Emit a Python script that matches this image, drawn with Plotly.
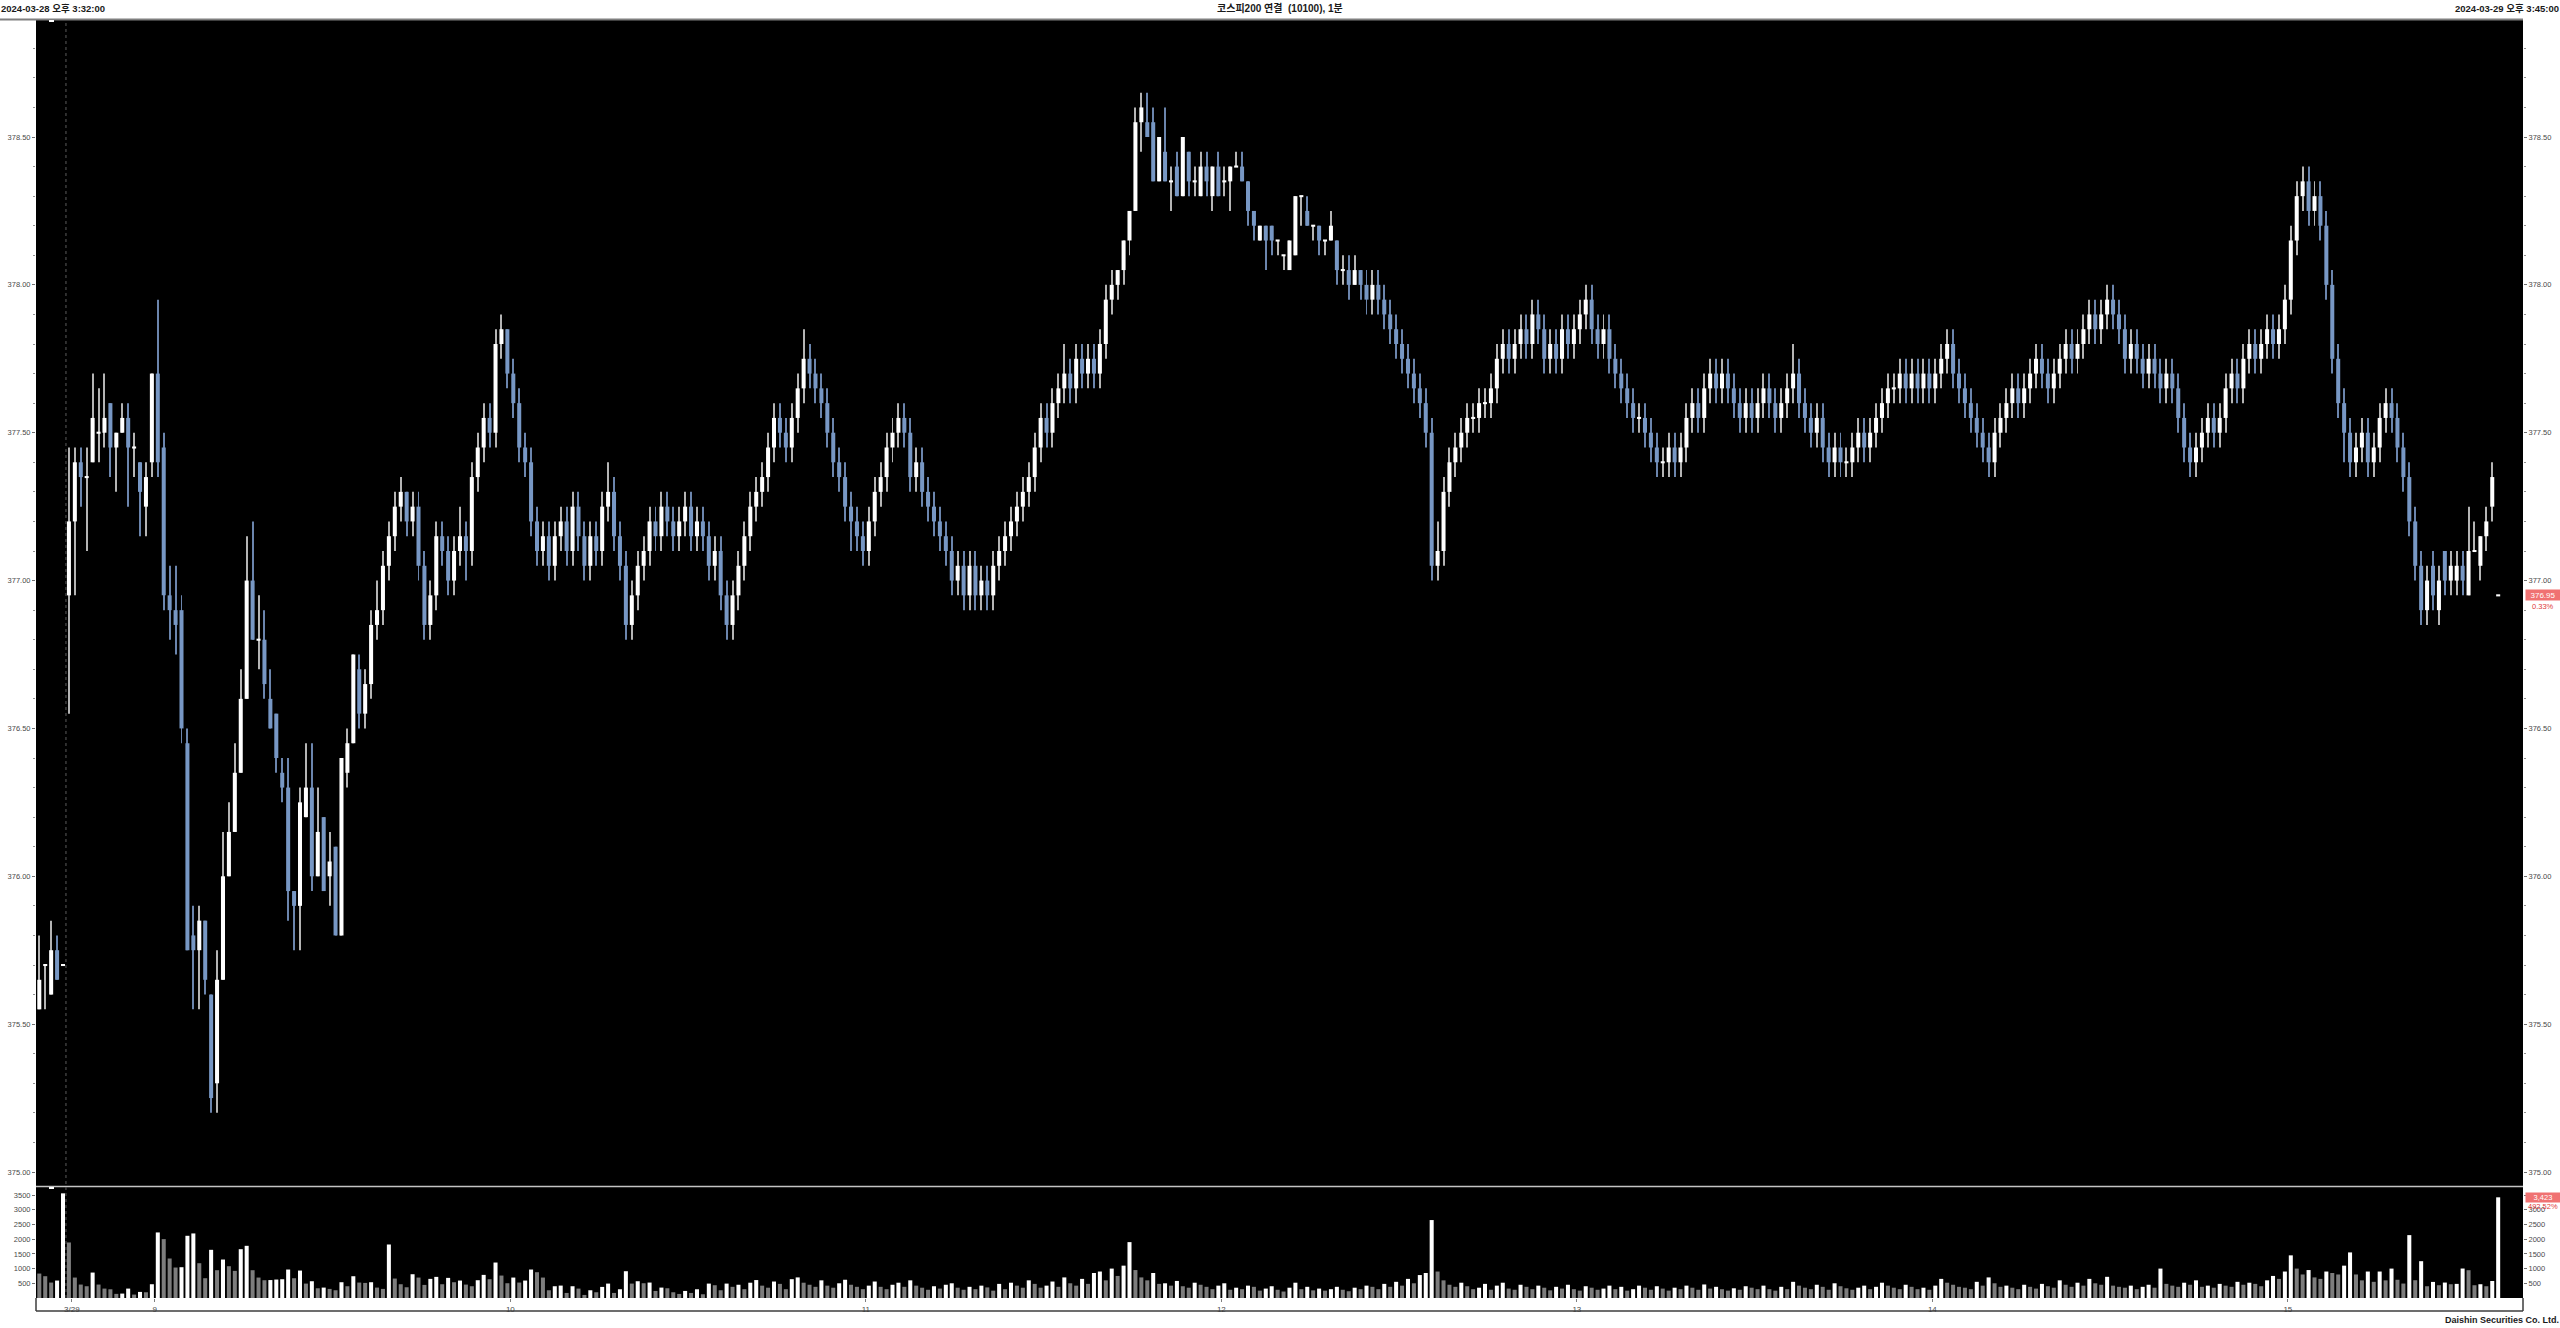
import plotly.graph_objects as go

# ---------------- data (1-minute candles, KOSPI200 futures) ----------------
open_ = [375.55, 375.70, 375.60, 375.75, 375.70,
         376.95, 377.20, 377.40, 377.35, 377.40, 377.50, 377.50, 377.60, 377.45, 377.50,
         377.55, 377.45, 377.40, 377.25, 377.40, 377.70, 377.45, 376.95, 376.90, 376.90,
         376.45, 375.80, 375.75, 375.85, 375.60, 375.30, 375.65, 376.00, 376.15, 376.35,
         376.60, 377.00, 376.80, 376.80, 376.60, 376.55, 376.35, 376.30, 375.95, 375.90,
         376.20, 376.30, 376.00, 376.20, 376.00, 376.10, 375.80, 376.35, 376.45,
         376.70, 376.55, 376.65, 376.85, 376.90, 377.05, 377.15, 377.25, 377.30, 377.20,
         377.25, 377.05, 376.85, 376.95, 377.15, 377.10, 377.00, 377.10, 377.15, 377.10,
         377.35, 377.45, 377.55, 377.50, 377.80, 377.85, 377.70, 377.60, 377.45, 377.40,
         377.20, 377.10, 377.15, 377.05, 377.15, 377.20, 377.10, 377.25, 377.15, 377.05,
         377.15, 377.10, 377.25, 377.30, 377.15, 377.05, 376.85, 376.95, 377.05, 377.10,
         377.20, 377.15, 377.25, 377.20, 377.15, 377.20, 377.25, 377.15, 377.20, 377.15,
         377.05, 377.10, 376.95, 376.85, 376.95, 377.05, 377.15, 377.25, 377.30, 377.35,
         377.45, 377.55, 377.50, 377.45, 377.55, 377.65, 377.75, 377.70, 377.65, 377.60,
         377.50, 377.40, 377.35, 377.25, 377.20, 377.15, 377.10, 377.20, 377.30, 377.35,
         377.45, 377.50, 377.55, 377.50, 377.35, 377.40, 377.30, 377.25, 377.20, 377.15,
         377.10, 377.00, 377.05, 376.95, 377.05, 376.95, 377.00, 376.95, 377.05, 377.10,
         377.15, 377.20, 377.25, 377.30, 377.35, 377.45, 377.55, 377.50, 377.60, 377.65,
         377.70, 377.65, 377.75, 377.70, 377.75, 377.70, 377.80, 377.95, 378.00, 378.05,
         378.15, 378.25, 378.55, 378.55, 378.55, 378.35, 378.45, 378.35, 378.40, 378.30,
         378.45, 378.35, 378.30, 378.40, 378.30, 378.40, 378.35, 378.35, 378.40, 378.40,
         378.35, 378.25, 378.15, 378.20, 378.20, 378.15, 378.10, 378.05, 378.10, 378.30,
         378.25, 378.20, 378.20, 378.15, 378.15, 378.15, 378.05, 378.05, 378.00, 378.05,
         378.00, 377.95, 378.00, 377.95, 377.90, 377.85, 377.80, 377.75, 377.70, 377.65,
         377.60, 377.50, 377.05, 377.10, 377.30, 377.40, 377.45, 377.50, 377.55, 377.55,
         377.60, 377.60, 377.65, 377.75, 377.80, 377.75, 377.80, 377.85, 377.80, 377.90,
         377.85, 377.75, 377.80, 377.75, 377.85, 377.80, 377.85, 377.90, 377.95, 377.85,
         377.80, 377.85, 377.75, 377.70, 377.65, 377.60, 377.55, 377.55, 377.50, 377.45,
         377.40, 377.40, 377.45, 377.40, 377.45, 377.55, 377.60, 377.55, 377.65, 377.70,
         377.65, 377.70, 377.65, 377.60, 377.55, 377.60, 377.55, 377.60, 377.65, 377.60,
         377.55, 377.60, 377.65, 377.70, 377.60, 377.55, 377.50, 377.55, 377.45, 377.40,
         377.45, 377.40, 377.40, 377.45, 377.50, 377.45, 377.50, 377.55, 377.60, 377.65,
         377.65, 377.70, 377.65, 377.70, 377.65, 377.70, 377.65, 377.70, 377.75, 377.80,
         377.70, 377.65, 377.60, 377.55, 377.50, 377.45, 377.40, 377.50, 377.55, 377.60,
         377.65, 377.60, 377.65, 377.70, 377.75, 377.70, 377.65, 377.70, 377.75, 377.80,
         377.75, 377.80, 377.85, 377.90, 377.85, 377.90, 377.95, 377.90, 377.85, 377.75,
         377.80, 377.75, 377.70, 377.75, 377.70, 377.65, 377.70, 377.65, 377.55, 377.45,
         377.40, 377.45, 377.50, 377.55, 377.50, 377.55, 377.65, 377.70, 377.65, 377.75,
         377.80, 377.75, 377.80, 377.85, 377.80, 377.85, 377.95, 378.15, 378.30, 378.35,
         378.25, 378.30, 378.20, 378.00, 377.75, 377.60, 377.50, 377.40, 377.45, 377.50,
         377.40, 377.45, 377.55, 377.60, 377.55, 377.45, 377.35, 377.20, 377.05, 376.90,
         377.05, 376.90, 377.10, 377.00, 377.00, 377.05, 376.95, 377.10, 377.05, 377.15,
         377.25, 376.95]
high_ = [375.80, 375.70, 375.85, 375.80, 375.70,
         377.45, 377.45, 377.45, 377.45, 377.70, 377.65, 377.70, 377.60, 377.50, 377.60,
         377.60, 377.50, 377.40, 377.40, 377.70, 377.95, 377.50, 377.05, 377.05, 376.95,
         376.50, 375.90, 375.90, 375.85, 375.60, 375.75, 376.15, 376.25, 376.45, 376.70,
         377.15, 377.20, 376.95, 376.90, 376.70, 376.55, 376.40, 376.40, 375.95, 376.30,
         376.45, 376.45, 376.30, 376.20, 376.15, 376.10, 376.40, 376.50, 376.75,
         376.75, 376.70, 376.90, 377.00, 377.10, 377.20, 377.30, 377.35, 377.30, 377.30,
         377.30, 377.10, 377.00, 377.20, 377.20, 377.15, 377.15, 377.25, 377.20, 377.40,
         377.50, 377.60, 377.60, 377.85, 377.90, 377.85, 377.75, 377.65, 377.50, 377.45,
         377.25, 377.20, 377.20, 377.20, 377.25, 377.25, 377.30, 377.30, 377.20, 377.20,
         377.20, 377.30, 377.40, 377.35, 377.20, 377.10, 377.00, 377.10, 377.15, 377.25,
         377.25, 377.30, 377.30, 377.25, 377.25, 377.30, 377.30, 377.25, 377.25, 377.20,
         377.15, 377.15, 377.00, 377.00, 377.10, 377.20, 377.30, 377.35, 377.40, 377.50,
         377.60, 377.60, 377.55, 377.60, 377.70, 377.85, 377.80, 377.75, 377.70, 377.65,
         377.55, 377.45, 377.40, 377.30, 377.25, 377.20, 377.25, 377.35, 377.40, 377.50,
         377.55, 377.60, 377.60, 377.55, 377.45, 377.45, 377.35, 377.30, 377.25, 377.20,
         377.15, 377.10, 377.10, 377.10, 377.10, 377.05, 377.05, 377.10, 377.15, 377.20,
         377.25, 377.30, 377.35, 377.40, 377.50, 377.60, 377.60, 377.65, 377.70, 377.80,
         377.75, 377.80, 377.80, 377.80, 377.80, 377.85, 378.00, 378.05, 378.05, 378.15,
         378.25, 378.60, 378.65, 378.65, 378.60, 378.50, 378.60, 378.40, 378.45, 378.50,
         378.45, 378.40, 378.45, 378.45, 378.40, 378.45, 378.40, 378.40, 378.45, 378.45,
         378.35, 378.25, 378.20, 378.20, 378.20, 378.15, 378.10, 378.15, 378.30, 378.30,
         378.30, 378.20, 378.20, 378.15, 378.25, 378.15, 378.10, 378.10, 378.10, 378.05,
         378.05, 378.05, 378.05, 378.00, 377.95, 377.90, 377.85, 377.80, 377.75, 377.70,
         377.65, 377.55, 377.20, 377.35, 377.45, 377.50, 377.55, 377.60, 377.60, 377.65,
         377.65, 377.70, 377.80, 377.85, 377.85, 377.85, 377.90, 377.90, 377.95, 377.95,
         377.90, 377.85, 377.85, 377.90, 377.90, 377.90, 377.95, 378.00, 378.00, 377.90,
         377.90, 377.90, 377.80, 377.75, 377.70, 377.65, 377.60, 377.60, 377.55, 377.50,
         377.45, 377.50, 377.50, 377.50, 377.60, 377.65, 377.65, 377.70, 377.75, 377.75,
         377.75, 377.75, 377.70, 377.65, 377.65, 377.65, 377.65, 377.70, 377.70, 377.65,
         377.65, 377.70, 377.80, 377.75, 377.65, 377.60, 377.60, 377.60, 377.50, 377.50,
         377.50, 377.45, 377.50, 377.55, 377.55, 377.55, 377.60, 377.65, 377.70, 377.70,
         377.75, 377.75, 377.75, 377.75, 377.75, 377.75, 377.75, 377.80, 377.85, 377.85,
         377.75, 377.70, 377.65, 377.60, 377.55, 377.50, 377.55, 377.60, 377.65, 377.70,
         377.70, 377.70, 377.75, 377.80, 377.80, 377.75, 377.75, 377.80, 377.85, 377.85,
         377.85, 377.90, 377.95, 377.95, 377.95, 378.00, 378.00, 377.95, 377.90, 377.85,
         377.85, 377.80, 377.80, 377.80, 377.75, 377.75, 377.75, 377.70, 377.60, 377.50,
         377.50, 377.55, 377.60, 377.60, 377.60, 377.70, 377.75, 377.75, 377.80, 377.85,
         377.85, 377.85, 377.90, 377.90, 377.90, 378.00, 378.20, 378.35, 378.40, 378.40,
         378.35, 378.35, 378.25, 378.05, 377.80, 377.65, 377.55, 377.50, 377.55, 377.55,
         377.50, 377.60, 377.65, 377.65, 377.60, 377.50, 377.40, 377.25, 377.10, 377.05,
         377.10, 377.05, 377.10, 377.10, 377.10, 377.10, 377.25, 377.20, 377.15, 377.25,
         377.40, 376.95]
low_ = [375.55, 375.55, 375.60, 375.65, 375.70,
        376.55, 376.95, 377.25, 377.10, 377.40, 377.40, 377.45, 377.35, 377.30, 377.50,
        377.25, 377.35, 377.15, 377.15, 377.35, 377.35, 376.90, 376.80, 376.75, 376.45,
        375.75, 375.55, 375.55, 375.60, 375.20, 375.20, 375.65, 376.00, 376.15, 376.35,
        376.60, 376.80, 376.70, 376.60, 376.50, 376.35, 376.25, 375.85, 375.75, 375.75,
        376.20, 375.95, 376.00, 375.95, 375.90, 375.80, 375.80, 376.30, 376.45,
        376.50, 376.50, 376.60, 376.80, 376.85, 377.00, 377.10, 377.20, 377.15, 377.15,
        377.00, 376.80, 376.80, 376.90, 377.05, 376.95, 376.95, 377.05, 377.00, 377.05,
        377.30, 377.40, 377.45, 377.45, 377.75, 377.65, 377.55, 377.40, 377.35, 377.15,
        377.05, 377.05, 377.00, 377.00, 377.10, 377.05, 377.05, 377.10, 377.00, 377.00,
        377.05, 377.05, 377.20, 377.10, 377.00, 376.80, 376.80, 376.90, 377.00, 377.05,
        377.10, 377.10, 377.15, 377.10, 377.10, 377.15, 377.10, 377.10, 377.10, 377.00,
        377.00, 376.90, 376.80, 376.80, 376.90, 377.00, 377.10, 377.20, 377.25, 377.30,
        377.40, 377.45, 377.40, 377.40, 377.50, 377.60, 377.65, 377.60, 377.55, 377.45,
        377.35, 377.30, 377.20, 377.10, 377.10, 377.05, 377.05, 377.15, 377.25, 377.30,
        377.40, 377.45, 377.45, 377.30, 377.30, 377.25, 377.20, 377.15, 377.10, 377.05,
        376.95, 376.95, 376.90, 376.90, 376.90, 376.90, 376.90, 376.90, 377.00, 377.05,
        377.10, 377.15, 377.20, 377.25, 377.30, 377.40, 377.45, 377.45, 377.55, 377.60,
        377.60, 377.60, 377.65, 377.65, 377.65, 377.65, 377.75, 377.90, 377.95, 378.00,
        378.10, 378.25, 378.45, 378.50, 378.35, 378.35, 378.35, 378.25, 378.30, 378.30,
        378.30, 378.30, 378.30, 378.30, 378.25, 378.30, 378.30, 378.25, 378.40, 378.35,
        378.20, 378.15, 378.15, 378.05, 378.10, 378.10, 378.05, 378.05, 378.10, 378.20,
        378.20, 378.15, 378.10, 378.10, 378.15, 378.00, 378.00, 377.95, 378.00, 377.95,
        377.90, 377.90, 377.90, 377.85, 377.80, 377.75, 377.70, 377.65, 377.60, 377.55,
        377.45, 377.00, 377.00, 377.05, 377.25, 377.35, 377.40, 377.45, 377.50, 377.50,
        377.55, 377.55, 377.60, 377.70, 377.70, 377.70, 377.75, 377.75, 377.75, 377.80,
        377.70, 377.70, 377.70, 377.70, 377.75, 377.75, 377.80, 377.85, 377.80, 377.75,
        377.75, 377.70, 377.65, 377.60, 377.55, 377.50, 377.50, 377.45, 377.40, 377.35,
        377.35, 377.35, 377.35, 377.35, 377.40, 377.50, 377.50, 377.50, 377.60, 377.60,
        377.60, 377.60, 377.55, 377.50, 377.50, 377.50, 377.50, 377.55, 377.55, 377.50,
        377.50, 377.55, 377.60, 377.55, 377.50, 377.45, 377.45, 377.40, 377.35, 377.35,
        377.35, 377.35, 377.35, 377.40, 377.40, 377.40, 377.45, 377.50, 377.55, 377.60,
        377.60, 377.60, 377.60, 377.60, 377.60, 377.60, 377.60, 377.65, 377.70, 377.65,
        377.60, 377.55, 377.50, 377.45, 377.40, 377.35, 377.35, 377.45, 377.50, 377.55,
        377.55, 377.55, 377.60, 377.65, 377.65, 377.60, 377.60, 377.65, 377.70, 377.70,
        377.70, 377.75, 377.80, 377.80, 377.80, 377.85, 377.85, 377.80, 377.70, 377.70,
        377.70, 377.65, 377.65, 377.65, 377.60, 377.60, 377.60, 377.50, 377.40, 377.35,
        377.35, 377.40, 377.45, 377.45, 377.45, 377.50, 377.60, 377.60, 377.60, 377.70,
        377.70, 377.70, 377.75, 377.75, 377.75, 377.80, 377.90, 378.10, 378.25, 378.20,
        378.20, 378.15, 377.95, 377.70, 377.55, 377.40, 377.35, 377.35, 377.40, 377.35,
        377.35, 377.40, 377.50, 377.50, 377.40, 377.30, 377.15, 377.00, 376.85, 376.85,
        376.90, 376.85, 376.95, 376.95, 376.95, 376.95, 376.95, 377.10, 377.00, 377.10,
        377.20, 376.95]
close_ = [375.65, 375.70, 375.75, 375.65, 375.70,
          377.20, 377.40, 377.35, 377.35, 377.55, 377.50, 377.55, 377.45, 377.50, 377.55,
          377.45, 377.45, 377.30, 377.35, 377.70, 377.40, 376.95, 376.90, 376.85, 376.50,
          375.75, 375.75, 375.85, 375.65, 375.25, 375.65, 376.00, 376.15, 376.35, 376.60,
          377.00, 376.80, 376.80, 376.65, 376.50, 376.40, 376.30, 375.95, 375.90, 376.25,
          376.30, 376.00, 376.15, 375.95, 376.05, 375.80, 376.40, 376.45, 376.75,
          376.55, 376.65, 376.85, 376.90, 377.05, 377.15, 377.25, 377.30, 377.20, 377.25,
          377.05, 376.85, 376.95, 377.15, 377.10, 377.00, 377.10, 377.15, 377.10, 377.35,
          377.45, 377.55, 377.50, 377.80, 377.85, 377.70, 377.60, 377.45, 377.40, 377.20,
          377.10, 377.15, 377.05, 377.15, 377.20, 377.10, 377.25, 377.15, 377.05, 377.15,
          377.10, 377.25, 377.30, 377.15, 377.05, 376.85, 376.95, 377.05, 377.10, 377.20,
          377.15, 377.25, 377.20, 377.15, 377.20, 377.25, 377.15, 377.20, 377.15, 377.05,
          377.10, 376.95, 376.85, 376.95, 377.05, 377.15, 377.25, 377.30, 377.35, 377.45,
          377.55, 377.50, 377.45, 377.55, 377.65, 377.75, 377.70, 377.65, 377.60, 377.50,
          377.40, 377.35, 377.25, 377.20, 377.15, 377.10, 377.20, 377.30, 377.35, 377.45,
          377.50, 377.55, 377.50, 377.35, 377.40, 377.30, 377.25, 377.20, 377.15, 377.10,
          377.00, 377.05, 376.95, 377.05, 376.95, 377.00, 376.95, 377.05, 377.10, 377.15,
          377.20, 377.25, 377.30, 377.35, 377.45, 377.55, 377.50, 377.60, 377.65, 377.70,
          377.65, 377.75, 377.70, 377.75, 377.70, 377.80, 377.95, 378.00, 378.05, 378.15,
          378.25, 378.55, 378.60, 378.50, 378.35, 378.50, 378.35, 378.35, 378.30, 378.50,
          378.35, 378.35, 378.40, 378.35, 378.40, 378.30, 378.35, 378.40, 378.40, 378.35,
          378.25, 378.20, 378.20, 378.15, 378.15, 378.15, 378.10, 378.15, 378.30, 378.30,
          378.20, 378.20, 378.15, 378.15, 378.20, 378.05, 378.05, 378.00, 378.05, 378.00,
          377.95, 378.00, 377.95, 377.90, 377.85, 377.80, 377.75, 377.70, 377.65, 377.60,
          377.50, 377.05, 377.10, 377.30, 377.40, 377.45, 377.50, 377.55, 377.55, 377.60,
          377.60, 377.65, 377.75, 377.80, 377.75, 377.80, 377.85, 377.80, 377.90, 377.85,
          377.75, 377.80, 377.75, 377.85, 377.80, 377.85, 377.90, 377.95, 377.85, 377.80,
          377.85, 377.75, 377.70, 377.65, 377.60, 377.55, 377.55, 377.50, 377.45, 377.40,
          377.40, 377.45, 377.40, 377.45, 377.55, 377.60, 377.55, 377.65, 377.70, 377.65,
          377.70, 377.65, 377.60, 377.55, 377.60, 377.55, 377.60, 377.65, 377.60, 377.55,
          377.60, 377.65, 377.70, 377.60, 377.55, 377.50, 377.55, 377.45, 377.40, 377.45,
          377.40, 377.40, 377.45, 377.50, 377.45, 377.50, 377.55, 377.60, 377.65, 377.65,
          377.70, 377.65, 377.70, 377.65, 377.70, 377.65, 377.70, 377.75, 377.80, 377.70,
          377.65, 377.60, 377.55, 377.50, 377.45, 377.40, 377.50, 377.55, 377.60, 377.65,
          377.60, 377.65, 377.70, 377.75, 377.70, 377.65, 377.70, 377.75, 377.80, 377.75,
          377.80, 377.85, 377.90, 377.85, 377.90, 377.95, 377.90, 377.85, 377.75, 377.80,
          377.75, 377.70, 377.75, 377.70, 377.65, 377.70, 377.65, 377.55, 377.45, 377.40,
          377.45, 377.50, 377.55, 377.50, 377.55, 377.65, 377.70, 377.65, 377.75, 377.80,
          377.75, 377.80, 377.85, 377.80, 377.85, 377.95, 378.15, 378.30, 378.35, 378.25,
          378.30, 378.20, 378.00, 377.75, 377.60, 377.50, 377.40, 377.45, 377.50, 377.40,
          377.45, 377.55, 377.60, 377.55, 377.45, 377.35, 377.20, 377.05, 376.90, 377.00,
          376.95, 377.00, 377.00, 377.05, 377.05, 377.00, 377.10, 377.10, 377.15, 377.20,
          377.35, 376.95]
volume = [831, 741, 525, 593, 3558, 1888, 695, 457, 400, 865, 457, 320, 297, 140, 150,
          320, 116, 207, 195, 468, 2229, 2002, 1343, 1036, 1047, 2115, 2195, 1183, 672, 1638,
          945, 1308, 1081, 922, 1660, 1774, 945, 695, 604, 610, 627, 638, 968, 672, 933,
          490, 570, 331, 354, 309, 263, 536, 400, 740, 525, 513, 536, 354, 309, 1819,
          661, 468, 365, 808, 695, 445, 650, 718, 468, 684, 536, 593, 456, 400, 604,
          786, 638, 1206, 763, 502, 695, 525, 593, 968, 877, 695, 263, 400, 422, 172,
          400, 320, 104, 263, 195, 377, 490, 172, 297, 911, 490, 570, 502, 525, 240,
          354, 331, 195, 138, 240, 172, 297, 127, 490, 434, 263, 490,
          380, 450, 300, 520, 610, 420, 350, 560, 480, 300,
          640, 700, 520, 450, 380, 600, 420, 350, 500, 620,
          450, 380, 300, 420, 560, 380, 300, 450, 520, 380,
          600, 420, 350, 280, 400, 320, 450, 500, 350, 280,
          380, 300, 420, 360, 250, 480, 300, 520, 420, 350,
          600, 480, 350, 420, 560, 380, 700, 500, 420, 650,
          480, 850, 900, 600, 1000, 750, 1100, 1900, 950, 700,
          600, 850, 480, 500, 420, 580, 400, 350, 520, 450,
          380, 300, 420, 500, 280, 350, 300, 420, 380, 250,
          320, 400, 280, 220, 350, 520, 300, 380, 260, 320,
          250, 300, 380, 280, 230, 350, 300, 420, 380, 300,
          480, 380, 550, 420, 650, 500, 780, 850, 2650, 900,
          600, 450, 380, 520, 400, 300, 350, 480, 280, 420,
          520, 320, 280, 450, 380, 300, 420, 350, 260, 380,
          320, 450, 300, 250, 400, 350, 280, 320, 420, 300,
          380, 250, 300, 420, 350, 280, 400, 320, 250, 350,
          300, 420, 350, 280, 460, 320, 380, 300, 250, 330,
          280, 400, 350, 300, 420, 300, 250, 380, 300, 550,
          420, 350, 300, 450, 380, 280, 500, 400, 330, 280,
          350, 420, 300, 380, 520, 420, 350, 300, 450, 380,
          300, 350, 280, 420, 650, 520, 450, 380, 350, 300,
          550, 420, 700, 500, 380, 420, 350, 300, 450, 380,
          320, 480, 400, 350, 600, 450, 380, 520, 420, 650,
          500, 450, 720, 420, 380, 350, 420, 300, 380, 450,
          350, 1000, 480, 420, 380, 520, 450, 600, 380, 420,
          350, 480, 420, 380, 550, 450, 520, 480, 400, 600,
          750, 650, 900, 1450, 1000, 800, 950, 700, 650, 900,
          850, 800, 1100, 1550, 800, 600, 900, 550, 900, 600, 1000, 620,
          491, 2138, 604, 1252, 400, 547, 434, 525, 468, 480, 1002, 945, 434, 468, 400,
          578, 3423]

day1_times = ["15:31", "15:32", "15:33", "15:34", "15:45"]
day2_times = [f"{m // 60:02d}:{m % 60:02d}" for m in range(8 * 60 + 45, 15 * 60 + 35)] + ["15:45"]
times = day1_times + day2_times
date_label = "3/29"
hour_labels = ["9", "10", "11", "12", "13", "14", "15"]
last_price_text = "376.95"
last_pct_text = "0.33%"
last_vol_text = "3,423"
last_vol_pct_text = "492.52%"

# ---------------- geometry (pixels) ----------------
W, H = 2560, 1328
L, R, T, B = 36, 2523, 20, 1298
X0PX, STEP = 39.3, 5.925            # pixel of slot 0 and slot spacing
PRICE_BOTTOM_PX, VOL_TOP_PX = 1186, 1187
PPU = 295.7                          # pixels per 1.0 price
VPU = 0.029333                       # pixels per 1 contract


def px_to_paper_x(px):
    return (px - L) / (R - L)


def px_to_paper_y(py):
    return (B - py) / (B - T)


xmin = (L - X0PX) / STEP
xmax = (R - X0PX) / STEP
y_top = 378.5 + (137 - T) / PPU
y_bot = 375.0 - (PRICE_BOTTOM_PX - 1172) / PPU
vol_top = (1297.7 - VOL_TOP_PX) / VPU

UP, DN = "#ffffff", "#7797c4"
WUP, WDN = "#b4b4b4", "#6b85ad"
VUP, VDN = "#ffffff", "#7d7d7d"
TXT = "#4a4a4a"
FONT = "Liberation Sans, Arial, Noto Sans CJK KR, sans-serif"

n = min(len(open_), len(high_), len(low_), len(close_))
xs = list(range(n))
doji_h = 0.007
body_base, body_h, body_col, wick_col = [], [], [], []
for o, c in zip(open_[:n], close_[:n]):
    if abs(c - o) < 1e-9:
        body_base.append(o - doji_h / 2)
        body_h.append(doji_h)
        body_col.append(UP)
        wick_col.append(WUP)
    else:
        body_base.append(min(o, c))
        body_h.append(abs(c - o))
        body_col.append(UP if c > o else DN)
        wick_col.append(WUP if c > o else WDN)

wick_base = low_[:n]
wick_h = [h - l if h - l > 0 else 0.0001 for h, l in zip(high_[:n], low_[:n])]

vcol = [VUP if (i > 0 and v > volume[i - 1]) else VDN for i, v in enumerate(volume)]
vx = list(range(len(volume)))

fig = go.Figure()
fig.add_trace(go.Bar(x=xs, y=wick_h, base=wick_base, width=0.17,
                     marker=dict(color=wick_col, line=dict(width=0)),
                     yaxis="y", xaxis="x", hoverinfo="skip", showlegend=False))
fig.add_trace(go.Bar(x=xs, y=body_h, base=body_base, width=0.68,
                     marker=dict(color=body_col, line=dict(width=0)),
                     yaxis="y", xaxis="x", hoverinfo="skip", showlegend=False))
fig.add_trace(go.Bar(x=vx, y=volume, width=0.68,
                     marker=dict(color=vcol, line=dict(width=0)),
                     yaxis="y2", xaxis="x", hoverinfo="skip", showlegend=False))
fig.add_trace(go.Scatter(x=[xs[0]], y=[close_[0]], yaxis="y3", mode="markers",
                         marker=dict(opacity=0), hoverinfo="skip", showlegend=False))
fig.add_trace(go.Scatter(x=[vx[0]], y=[volume[0]], yaxis="y4", mode="markers",
                         marker=dict(opacity=0), hoverinfo="skip", showlegend=False))

d2 = len(day1_times)
tickvals = [d2 + 0.5]
ticktext = [date_label]
for lab in hour_labels:
    idx = times.index(f"{int(lab):02d}:00")
    tickvals.append(idx - 0.5)
    ticktext.append(lab)

price_dom = [px_to_paper_y(PRICE_BOTTOM_PX), 1]
vol_dom = [0, px_to_paper_y(VOL_TOP_PX)]

tickfont = dict(family=FONT, size=7.5, color=TXT)
price_axis = dict(range=[y_bot, y_top], domain=price_dom, tick0=375.0, dtick=0.5,
                  tickformat=".2f", ticks="outside", ticklen=3, tickwidth=1,
                  tickcolor="#707070", tickfont=tickfont, showgrid=False, zeroline=False,
                  showline=False, fixedrange=True, automargin=False,
                  minor=dict(ticks="outside", ticklen=2, dtick=0.1, tick0=375.0,
                             tickcolor="#909090", showgrid=False))
vol_axis = dict(range=[0, vol_top], domain=vol_dom,
                tickvals=[500, 1000, 1500, 2000, 2500, 3000, 3500],
                ticks="outside", ticklen=3, tickwidth=1, tickcolor="#707070",
                tickfont=tickfont, showgrid=False, zeroline=False, showline=False,
                fixedrange=True, automargin=False)

fig.update_layout(
    width=W, height=H, autosize=False,
    margin=dict(l=L, r=W - R, t=T, b=H - B, pad=0, autoexpand=False),
    paper_bgcolor="#ffffff", plot_bgcolor="#000000",
    barmode="overlay", hovermode=False, showlegend=False,
    xaxis=dict(domain=[0, 1], range=[xmin, xmax], anchor="y2", tickvals=tickvals,
               ticktext=ticktext, ticks="outside", ticklen=3, tickcolor="#808080",
               tickfont=dict(family=FONT, size=8, color=TXT), showgrid=False,
               zeroline=False, showline=False, fixedrange=True, automargin=False),
    yaxis=dict(**price_axis, side="left", anchor="x"),
    yaxis3=dict(**price_axis, side="right", anchor="x", overlaying="y"),
    yaxis2=dict(**vol_axis, side="left", anchor="x"),
    yaxis4=dict(**vol_axis, side="right", anchor="x", overlaying="y2"),
)

shapes = [
    dict(type="line", xref="paper", yref="paper", x0=px_to_paper_x(0), x1=1,
         y0=px_to_paper_y(19.5), y1=px_to_paper_y(19.5), line=dict(color="#7f7f7f", width=2)),
    dict(type="line", xref="paper", yref="paper", x0=0, x1=1,
         y0=px_to_paper_y(1186.5), y1=px_to_paper_y(1186.5), line=dict(color="#c4c4c4", width=1.5)),
    dict(type="line", xref="paper", yref="paper", x0=0, x1=1,
         y0=px_to_paper_y(1311), y1=px_to_paper_y(1311), line=dict(color="#3c3c3c", width=1.5)),
    dict(type="line", xref="paper", yref="paper", x0=0, x1=0,
         y0=px_to_paper_y(1311), y1=0, line=dict(color="#3c3c3c", width=1.5)),
    dict(type="line", xref="paper", yref="paper", x0=1, x1=1,
         y0=px_to_paper_y(1311), y1=0, line=dict(color="#3c3c3c", width=1.5)),
    dict(type="line", xref="x", yref="paper", x0=d2 - 0.5, x1=d2 - 0.5, y0=0, y1=1,
         line=dict(color="#5a5a5a", width=1, dash="dot")),
    dict(type="rect", xref="paper", yref="paper", x0=px_to_paper_x(49), x1=px_to_paper_x(54),
         y0=px_to_paper_y(22), y1=px_to_paper_y(20), fillcolor="#ffffff", line=dict(width=0)),
    dict(type="rect", xref="paper", yref="paper", x0=px_to_paper_x(49), x1=px_to_paper_x(54),
         y0=px_to_paper_y(1189), y1=px_to_paper_y(1187), fillcolor="#ffffff", line=dict(width=0)),
]
fig.update_layout(shapes=shapes)

hdr = dict(family=FONT, size=9.5, color="#1a1a1a")
ann = [
    dict(text="<b>2024-03-28 오후 3:32:00</b>", xref="paper", yref="paper",
         x=px_to_paper_x(-1), y=px_to_paper_y(8), xanchor="left", yanchor="middle",
         showarrow=False, font=hdr),
    dict(text="<b>코스피200 연결  (10100), 1분</b>", xref="paper", yref="paper",
         x=px_to_paper_x(1280), y=px_to_paper_y(8), xanchor="center", yanchor="middle",
         showarrow=False, font=dict(family=FONT, size=10, color="#1a1a1a")),
    dict(text="<b>2024-03-29 오후 3:45:00</b>", xref="paper", yref="paper",
         x=px_to_paper_x(2561), y=px_to_paper_y(8), xanchor="right", yanchor="middle",
         showarrow=False, font=hdr),
    dict(text="<b>Daishin Securities Co. Ltd.</b>", xref="paper", yref="paper",
         x=px_to_paper_x(2561), y=px_to_paper_y(1320), xanchor="right", yanchor="middle",
         showarrow=False, font=dict(family=FONT, size=9, color="#1a1a1a")),
    dict(text=last_price_text, xref="paper", yref="y", x=px_to_paper_x(2542.5), y=376.95,
         xanchor="center", yanchor="middle", showarrow=False, bgcolor="#f07272",
         width=34, height=10, borderpad=0, font=dict(family=FONT, size=8, color="#ffffff")),
    dict(text=last_pct_text, xref="paper", yref="y", x=px_to_paper_x(2542.5), y=376.95,
         yshift=-11, xanchor="center", yanchor="middle", showarrow=False,
         font=dict(family=FONT, size=7.5, color="#e03a3a")),
    dict(text=last_vol_text, xref="paper", yref="y2", x=px_to_paper_x(2542.5), y=3423,
         xanchor="center", yanchor="middle", showarrow=False, bgcolor="#f07272",
         width=34, height=9, borderpad=0, font=dict(family=FONT, size=7.5, color="#ffffff")),
    dict(text=last_vol_pct_text, xref="paper", yref="y2", x=px_to_paper_x(2542.5), y=3423,
         yshift=-9, xanchor="center", yanchor="middle", showarrow=False,
         font=dict(family=FONT, size=7.5, color="#e03a3a")),
]
fig.update_layout(annotations=ann)

fig.write_html("out.html", config={"displayModeBar": False},
               post_script="document.body.style.margin='0';document.body.style.overflow='hidden';")
